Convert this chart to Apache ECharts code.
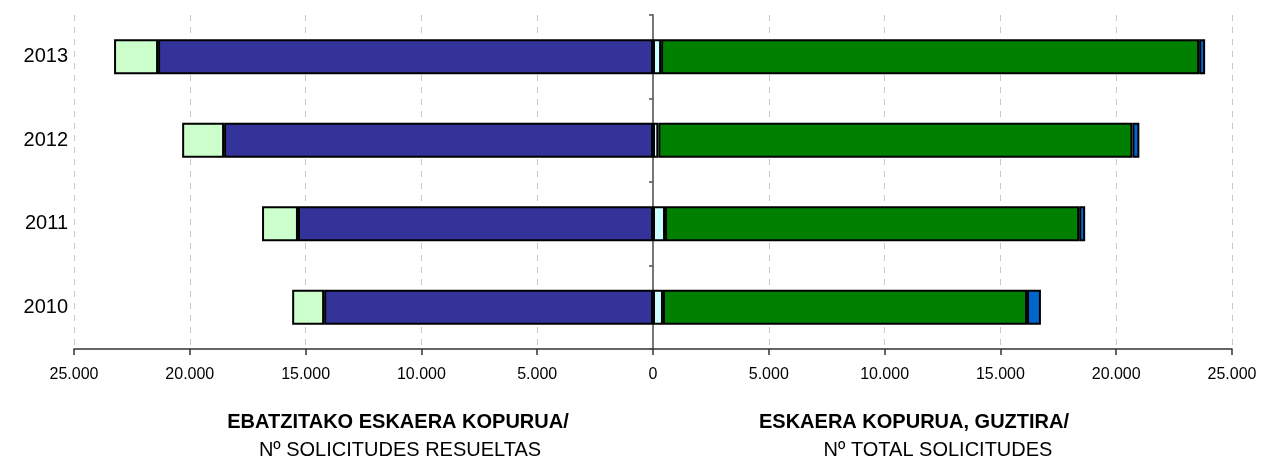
<!DOCTYPE html>
<html>
<head>
<meta charset="utf-8">
<script src="https://cdn.jsdelivr.net/npm/echarts@6/dist/echarts.min.js"></script>
<style>
html, body { margin: 0; padding: 0; background: #fff; }
#chart { width: 1263px; height: 459px; }
</style>
</head>
<body>
<div id="chart"></div>
<script>
// datos
var years = ['2010', '2011', '2012', '2013'];
// izquierda: solicitudes resueltas (se dibujan en negativo)
var resueltasA = [14200, 15330, 18520, 21370];
var resueltasB = [1380, 1550, 1810, 1900];
// derecha: total solicitudes
var totalA = [430, 520, 230, 350];
var totalB = [15720, 17880, 20470, 23230];
var totalC = [600, 260, 300, 260];
var xTicks = { min: -25000, max: 25000, interval: 5000 };

function neg(arr) {
	return arr.map(function (v) { return -v; });
}
function fmt(v) {
	return String(Math.abs(v)).replace(/\B(?=(\d{3})+(?!\d))/g, '.');
}

var myChart = echarts.init(document.getElementById('chart'));

var barStyle = function (color) {
	return { color: color, borderColor: '#000', borderWidth: 2 };
};

var titleFont = function (bold) {
	return { fontSize: 20, fontWeight: bold ? 'bold' : 'normal', color: '#000', fontFamily: 'Liberation Sans' };
};

var option = {
	animation: false,
	textStyle: { fontFamily: 'Liberation Sans, Arial, sans-serif' },
	grid: { left: 74, right: 31, top: 15, bottom: 110 },
	title: [{
		text: 'EBATZITAKO ESKAERA KOPURUA/', padding: 0,
		left: 398, top: 412, textAlign: 'center', textStyle: titleFont(true)
	}, {
		text: 'Nº SOLICITUDES RESUELTAS', padding: 0,
		left: 400, top: 440, textAlign: 'center', textStyle: titleFont(false)
	}, {
		text: 'ESKAERA KOPURUA, GUZTIRA/', padding: 0,
		left: 914, top: 412, textAlign: 'center', textStyle: titleFont(true)
	}, {
		text: 'Nº TOTAL SOLICITUDES', padding: 0,
		left: 938, top: 440, textAlign: 'center', textStyle: titleFont(false)
	}],
	xAxis: {
		type: 'value',
		min: xTicks.min, max: xTicks.max, interval: xTicks.interval,
		axisLine: { show: true, lineStyle: { color: '#333', width: 1.5 } },
		axisTick: { show: true, length: 6, lineStyle: { color: '#333', width: 1.5 } },
		axisLabel: { color: '#000', fontSize: 16, margin: 18, formatter: fmt },
		splitLine: { show: true, lineStyle: { color: '#c8c8c8', type: [6, 6], width: 1 } }
	},
	yAxis: [{
		type: 'category',
		data: years,
		position: 'left',
		axisLine: { show: false, onZero: false },
		axisTick: { show: false },
		axisLabel: { color: '#000', fontSize: 20, margin: 6 }
	}, {
		type: 'category',
		data: years,
		position: 'left',
		axisLine: { show: true, onZero: true, lineStyle: { color: '#777', width: 2 } },
		axisTick: { show: true, length: 4, lineStyle: { color: '#555', width: 1.5 } },
		axisLabel: { show: false }
	}],
	series: [{
		name: 'resueltas A', type: 'bar', stack: 'all', barWidth: 35,
		data: neg(resueltasA), itemStyle: barStyle('#333399')
	}, {
		name: 'resueltas B', type: 'bar', stack: 'all', barWidth: 35,
		data: neg(resueltasB), itemStyle: barStyle('#CCFFCC')
	}, {
		name: 'total A', type: 'bar', stack: 'all', barWidth: 35,
		data: totalA, itemStyle: barStyle('#CCFFFF')
	}, {
		name: 'total B', type: 'bar', stack: 'all', barWidth: 35,
		data: totalB, itemStyle: barStyle('#008000')
	}, {
		name: 'total C', type: 'bar', stack: 'all', barWidth: 35,
		data: totalC, itemStyle: barStyle('#0066CC')
	}]
};

myChart.setOption(option);
</script>
</body>
</html>
